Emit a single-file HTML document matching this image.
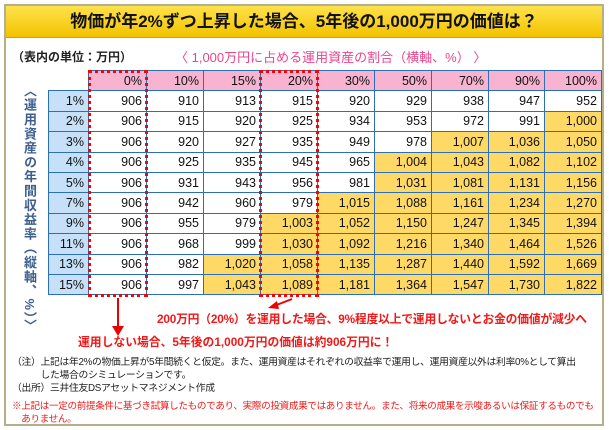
<!DOCTYPE html>
<html><head><meta charset="utf-8"><style>
*{margin:0;padding:0;box-sizing:border-box}
body{width:609px;height:430px;background:#fff;position:relative;overflow:hidden;font-family:"Liberation Sans","Noto Sans CJK JP",sans-serif}
.abs{position:absolute;white-space:nowrap}
#frame{position:absolute;left:4px;top:4px;width:600px;height:422px;border:2px solid #b5b08a;}
#title{position:absolute;left:6px;top:6px;width:596px;height:32px;background:linear-gradient(#ffe24a,#f2c200);border-bottom:1px solid #c9a400;text-align:center;font-size:17px;font-weight:bold;line-height:32px;color:#111}
table{position:absolute;left:48px;top:70px;border-collapse:collapse;font-size:12.5px}
td{border:1px solid #2d6fb7;height:20.4px;text-align:right;padding-right:4px;color:#111}
td.h{background:#f7b3cf}
td.r{background:#c6e0f7;width:39px}
td.y{background:#ffd966}
td.e{border:none;border-right:1px solid #2d6fb7;border-bottom:1px solid #2d6fb7}
.rb{position:absolute;border:3px dotted #f00}
</style></head><body>
<div id="frame"></div>
<div id="title">物価が年2%ずつ上昇した場合、5年後の1,000万円の価値は？</div>
<div class="abs" style="left:12px;top:48px;font-size:12px;font-weight:bold;color:#222">（表内の単位：万円）</div>
<div class="abs" style="left:175px;top:47px;font-size:13px;color:#e8468f">〈 1,000万円に占める運用資産の割合（横軸、%） 〉</div>
<div class="abs" style="left:21px;top:84px;height:230px;font-size:13px;font-weight:bold;color:#3d5f8f;writing-mode:vertical-rl;line-height:16px;letter-spacing:1.3px">〈運用資産の年間収益率（縦軸、%）〉</div>
<table>
<tr><td class="e" style="width:40px"></td><td class="h" style="width:58px">0%</td><td class="h" style="width:57px">10%</td><td class="h" style="width:57px">15%</td><td class="h" style="width:57px">20%</td><td class="h" style="width:57px">30%</td><td class="h" style="width:57px">50%</td><td class="h" style="width:57px">70%</td><td class="h" style="width:56px">90%</td><td class="h" style="width:57px">100%</td></tr>
<tr><td class="r">1%</td><td>906</td><td>910</td><td>913</td><td>915</td><td>920</td><td>929</td><td>938</td><td>947</td><td>952</td></tr>
<tr><td class="r">2%</td><td>906</td><td>915</td><td>920</td><td>925</td><td>934</td><td>953</td><td>972</td><td>991</td><td class="y">1,000</td></tr>
<tr><td class="r">3%</td><td>906</td><td>920</td><td>927</td><td>935</td><td>949</td><td>978</td><td class="y">1,007</td><td class="y">1,036</td><td class="y">1,050</td></tr>
<tr><td class="r">4%</td><td>906</td><td>925</td><td>935</td><td>945</td><td>965</td><td class="y">1,004</td><td class="y">1,043</td><td class="y">1,082</td><td class="y">1,102</td></tr>
<tr><td class="r">5%</td><td>906</td><td>931</td><td>943</td><td>956</td><td>981</td><td class="y">1,031</td><td class="y">1,081</td><td class="y">1,131</td><td class="y">1,156</td></tr>
<tr><td class="r">7%</td><td>906</td><td>942</td><td>960</td><td>979</td><td class="y">1,015</td><td class="y">1,088</td><td class="y">1,161</td><td class="y">1,234</td><td class="y">1,270</td></tr>
<tr><td class="r">9%</td><td>906</td><td>955</td><td>979</td><td class="y">1,003</td><td class="y">1,052</td><td class="y">1,150</td><td class="y">1,247</td><td class="y">1,345</td><td class="y">1,394</td></tr>
<tr><td class="r">11%</td><td>906</td><td>968</td><td>999</td><td class="y">1,030</td><td class="y">1,092</td><td class="y">1,216</td><td class="y">1,340</td><td class="y">1,464</td><td class="y">1,526</td></tr>
<tr><td class="r">13%</td><td>906</td><td>982</td><td class="y">1,020</td><td class="y">1,058</td><td class="y">1,135</td><td class="y">1,287</td><td class="y">1,440</td><td class="y">1,592</td><td class="y">1,669</td></tr>
<tr><td class="r">15%</td><td>906</td><td>997</td><td class="y">1,043</td><td class="y">1,089</td><td class="y">1,181</td><td class="y">1,364</td><td class="y">1,547</td><td class="y">1,730</td><td class="y">1,822</td></tr>
</table>
<div class="rb" style="left:88px;top:70px;width:60px;height:227px"></div>
<div class="rb" style="left:259px;top:70px;width:60px;height:227px"></div>
<svg class="abs" style="left:0;top:0" width="609" height="430">
<line x1="118" y1="298" x2="118" y2="330" stroke="#e00" stroke-width="2"/>
<polygon points="112,326 124,326 118,336" fill="#e00"/>
<line x1="292" y1="299" x2="274" y2="306" stroke="#e00" stroke-width="2"/>
<polygon points="268,308 277,301 279,309" fill="#e00"/>
</svg>
<div class="abs" style="left:157px;top:310px;font-size:11.8px;font-weight:bold;color:#f01818;letter-spacing:-0.2px">200万円（20%）を運用した場合、9%程度以上で運用しないとお金の価値が減少へ</div>
<div class="abs" style="left:78px;top:333px;font-size:11.8px;font-weight:bold;color:#f01818">運用しない場合、5年後の1,000万円の価値は約906万円に！</div>
<div class="abs" style="left:12px;top:356px;font-size:9.8px;color:#222;line-height:13px;letter-spacing:-0.3px">（注）上記は年2%の物価上昇が5年間続くと仮定。また、運用資産はそれぞれの収益率で運用し、運用資産以外は利率0%として算出<br>　　　した場合のシミュレーションです。<br>（出所）三井住友DSアセットマネジメント作成</div>
<div class="abs" style="left:12px;top:400px;font-size:9.6px;color:#f01818;line-height:13px;letter-spacing:-0.35px">※上記は一定の前提条件に基づき試算したものであり、実際の投資成果ではありません。また、将来の成果を示唆あるいは保証するものでも<br>　ありません。</div>
</body></html>
